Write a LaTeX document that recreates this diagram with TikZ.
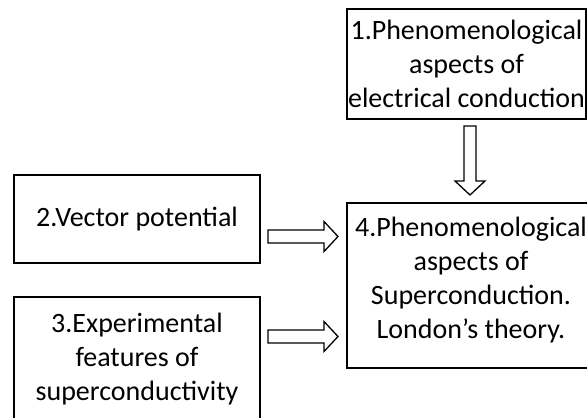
\documentclass[tikz,border=0pt]{standalone}
\usepackage{fontspec}
\setmainfont{Carlito}
\usetikzlibrary{calc}
\tikzset{
  topic/.style={draw=black, line width=2pt, inner sep=0pt, align=center,
    font=\fontsize{28}{34}\selectfont},
  blockarrow/.style={draw=black, line width=1.3pt, fill=white, line join=miter}
}
% horizontal block arrow from #1 to the tip #2
\newcommand\harrow[2]{%
  \draw[blockarrow] ($(#1)+(0,-6.5)$) -- ($(#2)+(-14,-6.5)$) -- ($(#2)+(-14,-15)$)
    -- (#2) -- ($(#2)+(-14,15)$) -- ($(#2)+(-14,6.5)$) -- ($(#1)+(0,6.5)$) -- cycle;}
% vertical (downward) block arrow from #1 to the tip #2
\newcommand\varrow[2]{%
  \draw[blockarrow] ($(#1)+(-6,0)$) -- ($(#2)+(-6,-14)$) -- ($(#2)+(-15,-14)$)
    -- (#2) -- ($(#2)+(15,-14)$) -- ($(#2)+(6,-14)$) -- ($(#1)+(6,0)$) -- cycle;}
\begin{document}
\begin{tikzpicture}[x=1pt, y=-1pt]
\useasboundingbox[fill=white] (0,0) rectangle (587,418);

\node[topic, minimum width=239pt, minimum height=110pt] (b1) at (466.5,64)
  {1.Phenomenological\\aspects of\\electrical conduction};
\node[topic, minimum width=246pt, minimum height=88pt] (b2) at (137,219)
  {2.Vector potential};
\node[topic, minimum width=246pt, minimum height=124pt] (b3) at (137,359)
  {3.Experimental\\features of\\superconductivity};
\node[topic, minimum width=248pt, minimum height=165pt] (b4) at (471,285.5)
  {4.Phenomenological\\aspects of\\Superconduction.\\London’s theory.\rule[-15pt]{0pt}{15pt}};

% arrow 1 -> 4
\coordinate (a1s) at ($(b1.south)+(3.5,6)$);
\coordinate (a1e) at ($(a1s |- b4.north)+(0,-7)$);
\varrow{a1s}{a1e}

% arrow 2 -> 4
\coordinate (a2e) at ($(b4.west)+(-8,-49)$);
\coordinate (a2s) at ($(a2e -| b2.east)+(7,0)$);
\harrow{a2s}{a2e}

% arrow 3 -> 4
\coordinate (a3e) at ($(b4.west)+(-8,51)$);
\coordinate (a3s) at ($(a3e -| b3.east)+(7,0)$);
\harrow{a3s}{a3e}
\end{tikzpicture}
\end{document}
